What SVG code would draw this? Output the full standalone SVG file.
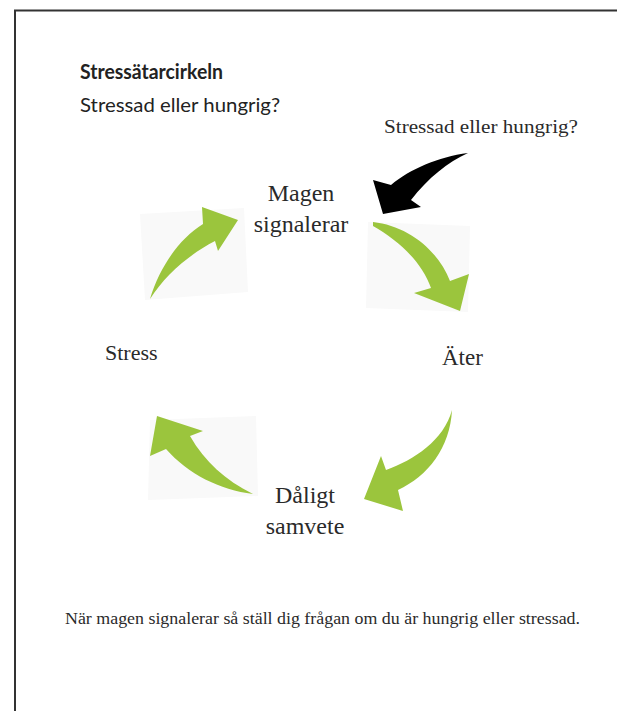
<svg xmlns="http://www.w3.org/2000/svg" width="617" height="711" viewBox="0 0 617 711">
<style>
.sans{font-family:Lato,"Open Sans","Liberation Sans",sans-serif;fill:#222}
.serif{font-family:"Liberation Serif","DejaVu Serif",serif;fill:#2a2a2a}
.green{fill:#9bc53d}
.bg{fill:#f9f9f9}
.lbl{font-size:24px;text-anchor:middle}
</style>
<rect x="0" y="0" width="617" height="711" fill="#ffffff"/>
<path d="M15,711 V10.5 H617" fill="none" stroke="#333" stroke-width="2"/>
<g id="title">
<text class="sans" x="80" y="79" font-size="20.5" font-weight="700" textLength="143" lengthAdjust="spacingAndGlyphs">Stressätarcirkeln</text>
<text class="sans" x="80" y="112" font-size="19" textLength="200" lengthAdjust="spacingAndGlyphs">Stressad eller hungrig?</text>
</g>
<g id="question">
<text class="serif" x="384" y="133" font-size="19" textLength="194" lengthAdjust="spacingAndGlyphs">Stressad eller hungrig?</text>
</g>
<g id="node-magen">
<text class="serif lbl" x="301" y="201">Magen</text>
<text class="serif lbl" x="301" y="232">signalerar</text>
</g>
<g id="node-ater">
<text class="serif" x="442" y="365" font-size="23">Äter</text>
</g>
<g id="node-daligt">
<text class="serif lbl" x="305" y="503">Dåligt</text>
<text class="serif lbl" x="305" y="534">samvete</text>
</g>
<g id="node-stress">
<text class="serif" x="105" y="360" font-size="22">Stress</text>
</g>
<g id="connectors">
<polygon class="bg" points="140,214 244,208 248,292 145,300"/>
<polygon class="bg" points="368,222 470,226 468,312 366,308"/>
<polygon class="bg" points="150,420 256,416 258,496 148,500"/>
<path class="green" d="M150,299 C160,266 180,238 203,224 L202,207 L238,220 L218,251 L215,241 C190,254 166,274 150,299 Z"/>
<path class="green" d="M373,222 C408,226 438,250 450,281 L469,274 L460,311 L414,293 L431,288 C422,262 398,240 373,226 Z"/>
<path class="green" d="M452,410 C444,440 414,460 386,470 L381,456 L364,499 L403,511 L398,490 C428,476 450,448 452,410 Z"/>
<path class="green" d="M253,494 C225,480 205,462 190,436 L203,431 L157,416 L150,456 L166,449 C188,474 220,490 253,494 Z"/>
<path fill="#000" d="M468,153 C438,157 410,169 391,185 L373,180 L383,214 L421,207 L411,200 C428,178 448,162 468,153 Z"/>
</g>
<g id="footer">
<text class="serif" x="65" y="624" font-size="16" textLength="515" lengthAdjust="spacingAndGlyphs">När magen signalerar så ställ dig frågan om du är hungrig eller stressad.</text>
</g>
</svg>
